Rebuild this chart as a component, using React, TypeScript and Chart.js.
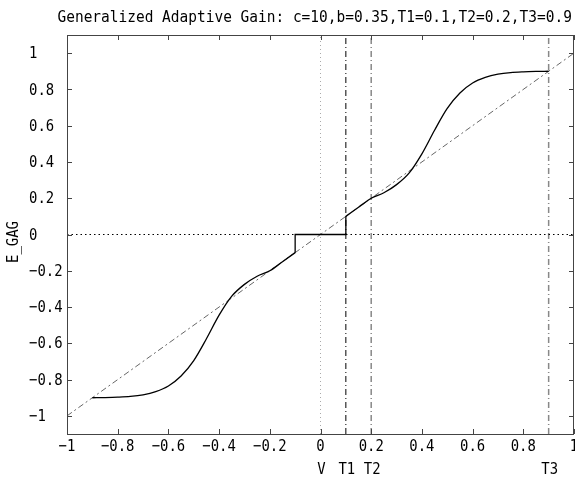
import React, { useEffect, useRef } from "react";
import { Chart, registerables } from "chart.js";
Chart.register(...registerables);

const TITLE = "Generalized Adaptive Gain: c=10,b=0.35,T1=0.1,T2=0.2,T3=0.9";
const Y_LABEL = "E_GAG";
const X_TICKS = [-1, -0.8, -0.6, -0.4, -0.2, 0, 0.2, 0.4, 0.6, 0.8, 1];
const Y_TICKS = [-1, -0.8, -0.6, -0.4, -0.2, 0, 0.2, 0.4, 0.6, 0.8, 1];
const MARKER_X = [0, 0.1, 0.2, 0.9];
const MARKER_LABELS = ["V", "T1", "T2", "T3"];

// Positive branch (T1 .. T3)
const POS_X = [0.1, 0.15, 0.2, 0.25, 0.3, 0.35, 0.4, 0.45, 0.5, 0.55, 0.6, 0.65, 0.7, 0.75, 0.8, 0.85, 0.9];
const POS_Y = [0.1, 0.15, 0.2, 0.23, 0.275, 0.34, 0.445, 0.575, 0.695, 0.78, 0.835, 0.866, 0.884, 0.893, 0.897, 0.899, 0.9];
// Negative branch (-T3 .. -T1)
const NEG_X = [-0.9, -0.85, -0.8, -0.75, -0.7, -0.65, -0.6, -0.55, -0.5, -0.45, -0.4, -0.35, -0.3, -0.25, -0.2, -0.15, -0.1];
const NEG_Y = [-0.9, -0.899, -0.897, -0.893, -0.884, -0.866, -0.835, -0.78, -0.695, -0.575, -0.445, -0.34, -0.275, -0.23, -0.2, -0.15, -0.1];
// Dead zone
const DEAD_X = [-0.1, -0.1, 0.1, 0.1];
const DEAD_Y = [-0.1, 0, 0, 0.1];
// Reference lines
const DIAG_X = [-1, 1];
const DIAG_Y = [-1, 1];
const ZERO_X = [-1, 1];
const ZERO_Y = [0, 0];
const Y_MIN = -1.1;
const Y_MAX = 1.1;

const pts = (xs: number[], ys: number[]) => xs.map((x, i) => ({ x, y: ys[i] }));
const vline = (x: number) => [{ x, y: Y_MIN }, { x, y: Y_MAX }];

const FONT = "16px 'DejaVu Sans Mono'";

const fmt = (v: number) => (v < 0 ? "\u2212" : "") + String(Math.abs(v));

function drawText(ctx: CanvasRenderingContext2D, text: string, x: number, y: number, align: CanvasTextAlign, sx = 0.87, rot = 0) {
  ctx.save();
  ctx.translate(x, y);
  if (rot) ctx.rotate(rot);
  ctx.scale(sx, 1);
  ctx.font = FONT;
  ctx.fillStyle = "#000";
  ctx.textAlign = align;
  ctx.textBaseline = "middle";
  ctx.fillText(text, 0, 0);
  ctx.restore();
}

const decor = {
  id: "decor",
  afterDatasetsDraw(chart: any) {
    const ctx: CanvasRenderingContext2D = chart.ctx;
    const { left, right, top, bottom } = chart.chartArea;
    const xs = chart.scales.x;
    const ys = chart.scales.y;
    ctx.save();
    ctx.strokeStyle = "#444";
    ctx.lineWidth = 1;
    ctx.strokeRect(Math.round(left) + 0.5, Math.round(top) + 0.5, Math.round(right - left) - 1, Math.round(bottom - top));
    const TL = 5;
    ctx.beginPath();
    X_TICKS.forEach((v) => {
      const px = Math.round(xs.getPixelForValue(v)) + 0.5;
      ctx.moveTo(px, bottom);
      ctx.lineTo(px, bottom - TL);
      ctx.moveTo(px, top);
      ctx.lineTo(px, top + TL);
    });
    Y_TICKS.forEach((v) => {
      const py = Math.round(ys.getPixelForValue(v)) + 0.5;
      ctx.moveTo(left, py);
      ctx.lineTo(left + TL, py);
      ctx.moveTo(right, py);
      ctx.lineTo(right - TL, py);
    });
    ctx.stroke();
    ctx.restore();
  },
  afterDraw(chart: any) {
    const ctx: CanvasRenderingContext2D = chart.ctx;
    const xs = chart.scales.x;
    const ys = chart.scales.y;
    X_TICKS.forEach((v) => drawText(ctx, fmt(v), xs.getPixelForValue(v), 447, "center"));
    Y_TICKS.forEach((v) => drawText(ctx, fmt(v), 29, ys.getPixelForValue(v) + 1, "left"));
    MARKER_X.forEach((v, i) => drawText(ctx, MARKER_LABELS[i], xs.getPixelForValue(v) + 1, 470, "center"));
    drawText(ctx, TITLE, 57.5, 18, "left", 0.905);
    drawText(ctx, Y_LABEL, 14, 242, "center", 0.87, -Math.PI / 2);
  },
};

export default function App() {
  const ref = useRef<HTMLCanvasElement | null>(null);
  useEffect(() => {
    if (!ref.current) return;
    const base = { pointRadius: 0, fill: false, borderWidth: 1 };
    const chart = new Chart(ref.current, {
      type: "line",
      data: {
        datasets: [
          { ...base, data: pts(POS_X, POS_Y), borderColor: "#000", borderWidth: 1.3, cubicInterpolationMode: "monotone" },
          { ...base, data: pts(NEG_X, NEG_Y), borderColor: "#000", borderWidth: 1.3, cubicInterpolationMode: "monotone" },
          { ...base, data: pts(DEAD_X, DEAD_Y), borderColor: "#000", borderWidth: 1.3 },
          { ...base, data: pts(DIAG_X, DIAG_Y), borderColor: "#666", borderDash: [6, 3, 2, 3] },
          { ...base, data: pts(ZERO_X, ZERO_Y), borderColor: "#000", borderDash: [1.5, 3] },
          { ...base, data: vline(MARKER_X[0]), borderColor: "#aaa", borderDash: [1, 3] },
          { ...base, data: vline(MARKER_X[1]), borderColor: "#000", borderDash: [6, 3, 1, 3] },
          { ...base, data: vline(MARKER_X[2]), borderColor: "#888", borderWidth: 1.5, borderDash: [6, 3, 1, 3] },
          { ...base, data: vline(MARKER_X[3]), borderColor: "#888", borderWidth: 1.5, borderDash: [6, 3, 1, 3] },
        ] as any,
      },
      options: {
        animation: false,
        responsive: false,
        parsing: true,
        layout: { padding: { left: 67, right: 1, top: 35, bottom: 49 } },
        plugins: { legend: { display: false }, tooltip: { enabled: false }, title: { display: false } },
        scales: {
          x: { type: "linear", min: -1, max: 1, display: false },
          y: { type: "linear", min: Y_MIN, max: Y_MAX, display: false },
        },
      } as any,
      plugins: [decor],
    });
    return () => chart.destroy();
  }, []);
  return (
    <div style={{ position: "fixed", left: 0, top: 0, width: 575, height: 483, background: "#fff" }}>
      <canvas ref={ref} width={575} height={483} style={{ display: "block" }} />
    </div>
  );
}
